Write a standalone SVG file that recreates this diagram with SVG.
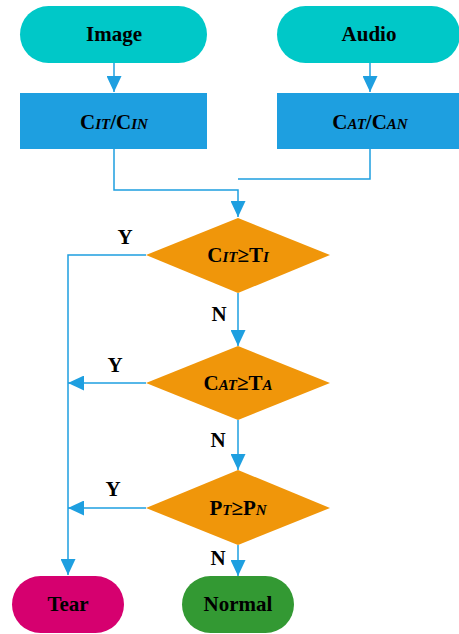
<svg xmlns="http://www.w3.org/2000/svg" width="459" height="634" viewBox="0 0 459 634">
<defs>
<style>
.t{font-family:"Liberation Serif","Times New Roman",serif;font-weight:bold;font-size:21px;fill:#000;text-anchor:middle}
.s{font-style:italic;font-size:15px}
.c{stroke:#1E9FE0;stroke-width:1.5;fill:none}
</style>
<marker id="ah" viewBox="0 0 16 15" refX="16" refY="7.5" markerWidth="16" markerHeight="15" markerUnits="userSpaceOnUse" orient="auto">
<path d="M0,0 L16,7.5 L0,15 Z" fill="#1E9FE0"/>
</marker>
</defs>
<rect width="459" height="634" fill="#fff"/>
<g id="connectors">
<line class="c" x1="114" y1="63" x2="114" y2="92" marker-end="url(#ah)"/>
<line class="c" x1="370" y1="63" x2="370" y2="92" marker-end="url(#ah)"/>
<polyline class="c" points="114,149 114,190 238,190 238,217" marker-end="url(#ah)"/>
<polyline class="c" points="370,149 370,179 238,179"/>
<polyline class="c" points="146,255 68,255 68,575" marker-end="url(#ah)"/>
<line class="c" x1="238" y1="293" x2="238" y2="346" marker-end="url(#ah)"/>
<line class="c" x1="146" y1="383" x2="68" y2="383" marker-end="url(#ah)"/>
<line class="c" x1="238" y1="420" x2="238" y2="470" marker-end="url(#ah)"/>
<line class="c" x1="146" y1="508" x2="68" y2="508" marker-end="url(#ah)"/>
<line class="c" x1="238" y1="545" x2="238" y2="576" marker-end="url(#ah)"/>
<text class="t" x="125" y="244">Y</text>
<text class="t" x="219" y="321">N</text>
<text class="t" x="115" y="372">Y</text>
<text class="t" x="218" y="447">N</text>
<text class="t" x="113" y="496">Y</text>
<text class="t" x="218" y="565">N</text>
</g>
<g id="image">
<rect x="20" y="6" width="187" height="57" rx="28.5" fill="#00C8C8"/>
<text class="t" x="114" y="41">Image</text>
</g>
<g id="audio">
<rect x="277" y="6" width="183" height="57" rx="28.5" fill="#00C8C8"/>
<text class="t" x="369" y="41">Audio</text>
</g>
<g id="cit">
<rect x="20" y="93" width="187" height="56" fill="#1E9FE0"/>
<text class="t" x="114" y="129">C<tspan class="s">IT</tspan>/C<tspan class="s">IN</tspan></text>
</g>
<g id="cat">
<rect x="277" y="93" width="183" height="56" fill="#1E9FE0"/>
<text class="t" x="370" y="129">C<tspan class="s">AT</tspan>/C<tspan class="s">AN</tspan></text>
</g>
<g id="d1">
<polygon points="238,218 330,255 238,293 146,255" fill="#F0960A"/>
<text class="t" x="238" y="262">C<tspan class="s">IT</tspan>≥T<tspan class="s">I</tspan></text>
</g>
<g id="d2">
<polygon points="238,346 330,383 238,420 146,383" fill="#F0960A"/>
<text class="t" x="238" y="390">C<tspan class="s">AT</tspan>≥T<tspan class="s">A</tspan></text>
</g>
<g id="d3">
<polygon points="238,470 330,508 238,545 146,508" fill="#F0960A"/>
<text class="t" x="238" y="515">P<tspan class="s">T</tspan>≥P<tspan class="s">N</tspan></text>
</g>
<g id="tear">
<rect x="12" y="576" width="112" height="57" rx="28.5" fill="#D6006F"/>
<text class="t" x="68" y="611">Tear</text>
</g>
<g id="normal">
<rect x="182" y="576" width="112" height="57" rx="28.5" fill="#339933"/>
<text class="t" x="238" y="611">Normal</text>
</g>
</svg>
